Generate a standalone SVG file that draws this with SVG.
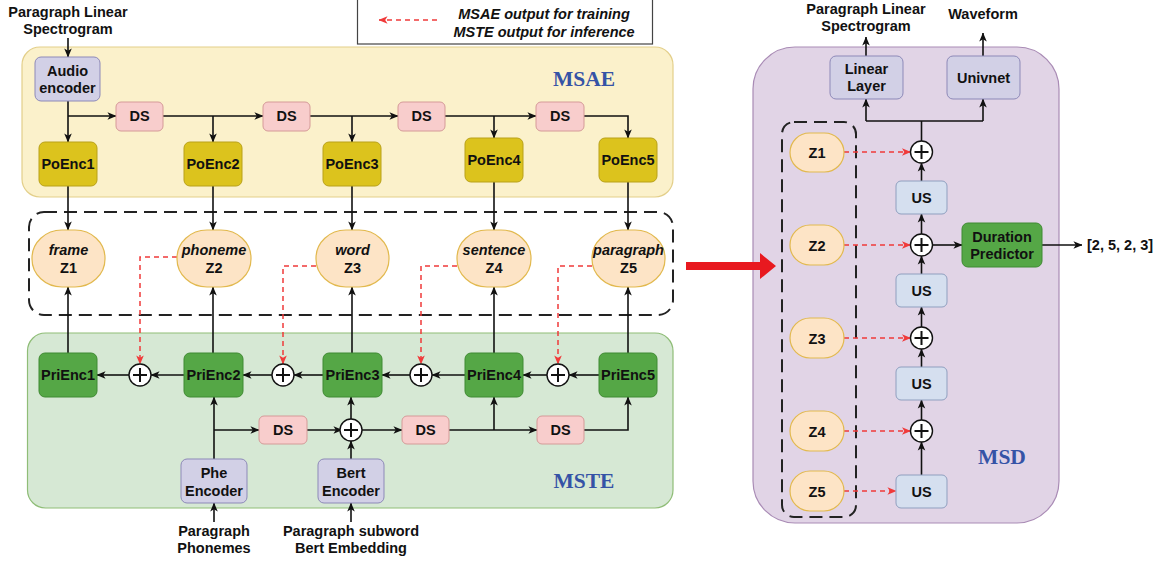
<svg xmlns="http://www.w3.org/2000/svg" width="1161" height="561" viewBox="0 0 1161 561">
  <style>
    text { font-family: "Liberation Sans", Arial, sans-serif; font-weight: bold; font-size: 14.5px; fill: #111; text-anchor: middle; }
    .it { font-style: italic; }
    .title { font-family: "Liberation Serif", "Times New Roman", serif; font-size: 21.5px; fill: #3553a6; }
    .edge { fill: none; stroke: #111; stroke-width: 1.6; marker-end: url(#ah); }
    .line { fill: none; stroke: #111; stroke-width: 1.6; }
    .red { fill: none; stroke: #f03a3a; stroke-width: 1.5; stroke-dasharray: 5 4; marker-end: url(#ahr); }
    .grp { fill: none; stroke: #222; stroke-width: 2; stroke-dasharray: 13 7; }
    .ds { fill: #f8cdcc; stroke: #d59a98; stroke-width: 1; }
    .po { fill: #dcc31d; stroke: #b9a118; stroke-width: 1; }
    .pri { fill: #55a746; stroke: #3f8a32; stroke-width: 1; }
    .enc { fill: #d2d0e6; stroke: #8d89b8; stroke-width: 1; }
    .z { fill: #fde4c6; stroke: #e2b94e; stroke-width: 1.2; }
    .us { fill: #d5dfef; stroke: #8f9fbf; stroke-width: 1; }
    .plus circle { fill: #fff; stroke: #111; stroke-width: 1.4; }
    .plus path { stroke: #111; stroke-width: 2; fill: none; }
  </style>
  <defs>
    <marker id="ah" viewBox="0 0 10 10" refX="9.5" refY="5" markerWidth="9" markerHeight="9" orient="auto" markerUnits="userSpaceOnUse">
      <path d="M0,0.8 L10,5 L0,9.2 L2.6,5 z" fill="#111"/>
    </marker>
    <marker id="ahr" viewBox="0 0 10 10" refX="9.5" refY="5" markerWidth="9" markerHeight="9" orient="auto" markerUnits="userSpaceOnUse">
      <path d="M0,0.8 L10,5 L0,9.2 L2.6,5 z" fill="#f03a3a"/>
    </marker>
  </defs>

  <!-- legend -->
  <g id="legend">
    <rect x="357.5" y="-1" width="295" height="45" fill="#fff" stroke="#444" stroke-width="1.2"/>
    <path d="M437,20 L379,20" class="red"/>
    <text x="544" y="19" class="it">MSAE output for training</text>
    <text x="544" y="37" class="it">MSTE output for inference</text>
  </g>

  <!-- module backgrounds -->
  <g id="msae">
    <rect x="22" y="47" width="651" height="150" rx="18" fill="#fbf1cb" stroke="#e3cf8a" stroke-width="1.2"/>
    <text x="584" y="86" class="title">MSAE</text>
  </g>
  <g id="mste">
    <rect x="27.5" y="333" width="645.5" height="175" rx="18" fill="#d6e8d4" stroke="#8fbd77" stroke-width="1.2"/>
    <text x="584" y="488" class="title">MSTE</text>
  </g>
  <g id="msd">
    <rect x="753" y="47" width="306" height="476" rx="42" fill="#e1d4e6" stroke="#a98bb5" stroke-width="1.2"/>
    <text x="1002" y="464" class="title">MSD</text>
  </g>
  <g id="latent-group">
    <rect x="29" y="212" width="644" height="103" rx="15" class="grp"/>
  </g>
  <g id="msd-latent-group">
    <rect x="782" y="122" width="74" height="395" rx="12" class="grp"/>
  </g>

  <!-- free labels -->
  <g id="labels">
    <text x="68" y="17">Paragraph Linear</text>
    <text x="68" y="34">Spectrogram</text>
    <text x="214" y="536">Paragraph</text>
    <text x="214" y="553">Phonemes</text>
    <text x="351" y="536">Paragraph subword</text>
    <text x="351" y="553">Bert Embedding</text>
    <text x="866" y="14">Paragraph Linear</text>
    <text x="866" y="31">Spectrogram</text>
    <text x="983" y="19">Waveform</text>
    <text x="1087" y="250" style="text-anchor:start">[2, 5, 2, 3]</text>
  </g>

  <!-- connectors -->
  <g id="connectors">
    <!-- MSAE -->
    <path d="M68,38 L68,57" class="edge"/>
    <path d="M68,101 L68,142" class="edge"/>
    <path d="M68,116 L116,116" class="edge"/>
    <path d="M163,116 L263,116" class="edge"/>
    <path d="M213,116 L213,142" class="edge"/>
    <path d="M310,116 L398,116" class="edge"/>
    <path d="M352,116 L352,142" class="edge"/>
    <path d="M445,116 L536,116" class="edge"/>
    <path d="M494,116 L494,138" class="edge"/>
    <path d="M584,116 L628,116 L628,138" class="edge"/>
    <path d="M68,186 L68,230" class="edge"/>
    <path d="M213,186 L213,230" class="edge"/>
    <path d="M352,186 L352,230" class="edge"/>
    <path d="M494,182 L494,230" class="edge"/>
    <path d="M628,182 L628,230" class="edge"/>
    <!-- MSTE upward -->
    <path d="M68,353 L68,287" class="edge"/>
    <path d="M213,353 L213,287" class="edge"/>
    <path d="M352,353 L352,287" class="edge"/>
    <path d="M494,353 L494,287" class="edge"/>
    <path d="M628,353 L628,287" class="edge"/>
    <!-- MSTE prior chain -->
    <path d="M599,375 L569,375" class="edge"/>
    <path d="M547,375 L523,375" class="edge"/>
    <path d="M465,375 L432,375" class="edge"/>
    <path d="M410,375 L382,375" class="edge"/>
    <path d="M323,375 L294,375" class="edge"/>
    <path d="M272,375 L243,375" class="edge"/>
    <path d="M184,375 L151,375" class="edge"/>
    <path d="M129,375 L97,375" class="edge"/>
    <!-- MSTE text encoders -->
    <path d="M214,459 L214,397" class="edge"/>
    <path d="M214,430 L259,430" class="edge"/>
    <path d="M307,430 L342,430" class="edge"/>
    <path d="M351,459 L351,441" class="edge"/>
    <path d="M351,419 L351,397" class="edge"/>
    <path d="M362,430 L402,430" class="edge"/>
    <path d="M449,430 L537,430" class="edge"/>
    <path d="M494,430 L494,397" class="edge"/>
    <path d="M584,430 L628,430 L628,397" class="edge"/>
    <path d="M214,522 L214,503" class="edge"/>
    <path d="M351,522 L351,503" class="edge"/>
    <!-- training / inference paths -->
    <path d="M177,257 L140,257 L140,364" class="red"/>
    <path d="M316,266 L283,266 L283,364" class="red"/>
    <path d="M457,266 L421,266 L421,364" class="red"/>
    <path d="M592,266 L558,266 L558,364" class="red"/>
    <!-- MSD -->
    <path d="M921.5,475 L921.5,442" class="edge"/>
    <path d="M921.5,420 L921.5,400" class="edge"/>
    <path d="M921.5,367 L921.5,349" class="edge"/>
    <path d="M921.5,327 L921.5,307" class="edge"/>
    <path d="M921.5,274 L921.5,256" class="edge"/>
    <path d="M921.5,234 L921.5,214" class="edge"/>
    <path d="M921.5,181 L921.5,163" class="edge"/>
    <path d="M921.5,141 L921.5,121" class="line"/>
    <path d="M866,121 L983,121" class="line"/>
    <path d="M866,121 L866,99" class="edge"/>
    <path d="M983,121 L983,99" class="edge"/>
    <path d="M866,56 L866,37" class="edge"/>
    <path d="M983,56 L983,33" class="edge"/>
    <path d="M932.5,245 L962,245" class="edge"/>
    <path d="M1042,245 L1082,245" class="edge"/>
    <path d="M844,152 L910.5,152" class="red"/>
    <path d="M844,245 L910.5,245" class="red"/>
    <path d="M844,338 L910.5,338" class="red"/>
    <path d="M844,431 L910.5,431" class="red"/>
    <path d="M844,491 L896,491" class="red"/>
    <!-- hand-off arrow -->
    <polygon points="686,262 760,262 760,253 776,266 760,279 760,270 686,270" fill="#e8191f"/>
  </g>

  <!-- MSAE nodes -->
  <g id="audio-encoder"><rect x="35" y="57" width="65" height="44" rx="6" class="enc"/><text x="67.5" y="76">Audio</text><text x="67.5" y="93">encoder</text></g>
  <g id="ds1"><rect x="116" y="102" width="47" height="29" rx="5" class="ds"/><text x="139.5" y="121">DS</text></g>
  <g id="ds2"><rect x="263" y="102" width="47" height="29" rx="5" class="ds"/><text x="286.5" y="121">DS</text></g>
  <g id="ds3"><rect x="398" y="102" width="47" height="29" rx="5" class="ds"/><text x="421.5" y="121">DS</text></g>
  <g id="ds4"><rect x="536" y="102" width="48" height="29" rx="5" class="ds"/><text x="560" y="121">DS</text></g>
  <g id="poenc1"><rect x="39" y="142" width="58" height="44" rx="6" class="po"/><text x="68" y="169">PoEnc1</text></g>
  <g id="poenc2"><rect x="184" y="142" width="58" height="44" rx="6" class="po"/><text x="213" y="169">PoEnc2</text></g>
  <g id="poenc3"><rect x="323" y="142" width="58" height="44" rx="6" class="po"/><text x="352" y="169">PoEnc3</text></g>
  <g id="poenc4"><rect x="465" y="138" width="58" height="44" rx="6" class="po"/><text x="494" y="165">PoEnc4</text></g>
  <g id="poenc5"><rect x="599" y="138" width="58" height="44" rx="6" class="po"/><text x="628" y="165">PoEnc5</text></g>

  <!-- latent nodes -->
  <g id="z1"><rect x="32" y="230" width="73" height="57" rx="30" ry="28" class="z"/><text x="68.5" y="255" class="it">frame</text><text x="68.5" y="273">Z1</text></g>
  <g id="z2"><rect x="177" y="230" width="74" height="57" rx="30" ry="28" class="z"/><text x="214" y="255" class="it">phoneme</text><text x="214" y="273">Z2</text></g>
  <g id="z3"><rect x="316" y="230" width="73" height="57" rx="30" ry="28" class="z"/><text x="352.5" y="255" class="it">word</text><text x="352.5" y="273">Z3</text></g>
  <g id="z4"><rect x="457" y="230" width="74" height="57" rx="30" ry="28" class="z"/><text x="494" y="255" class="it">sentence</text><text x="494" y="273">Z4</text></g>
  <g id="z5"><rect x="592" y="230" width="73" height="57" rx="30" ry="28" class="z"/><text x="628.5" y="255" class="it">paragraph</text><text x="628.5" y="273">Z5</text></g>

  <!-- MSTE nodes -->
  <g id="prienc1"><rect x="39" y="353" width="58" height="44" rx="6" class="pri"/><text x="68" y="380">PriEnc1</text></g>
  <g id="prienc2"><rect x="184" y="353" width="59" height="44" rx="6" class="pri"/><text x="213.5" y="380">PriEnc2</text></g>
  <g id="prienc3"><rect x="323" y="353" width="59" height="44" rx="6" class="pri"/><text x="352.5" y="380">PriEnc3</text></g>
  <g id="prienc4"><rect x="465" y="353" width="58" height="44" rx="6" class="pri"/><text x="494" y="380">PriEnc4</text></g>
  <g id="prienc5"><rect x="599" y="353" width="58" height="44" rx="6" class="pri"/><text x="628" y="380">PriEnc5</text></g>
  <g id="add1" class="plus"><circle cx="140" cy="375" r="11"/><path d="M133,375 h14 M140,368 v14"/></g>
  <g id="add2" class="plus"><circle cx="283" cy="375" r="11"/><path d="M276,375 h14 M283,368 v14"/></g>
  <g id="add3" class="plus"><circle cx="421" cy="375" r="11"/><path d="M414,375 h14 M421,368 v14"/></g>
  <g id="add4" class="plus"><circle cx="558" cy="375" r="11"/><path d="M551,375 h14 M558,368 v14"/></g>
  <g id="add-bert" class="plus"><circle cx="351" cy="430" r="11"/><path d="M344,430 h14 M351,423 v14"/></g>
  <g id="ds5"><rect x="259" y="416" width="48" height="28" rx="5" class="ds"/><text x="283" y="435">DS</text></g>
  <g id="ds6"><rect x="402" y="416" width="47" height="28" rx="5" class="ds"/><text x="425.5" y="435">DS</text></g>
  <g id="ds7"><rect x="537" y="416" width="47" height="28" rx="5" class="ds"/><text x="560.5" y="435">DS</text></g>
  <g id="phe-encoder"><rect x="181" y="459" width="66" height="44" rx="6" class="enc"/><text x="214" y="478">Phe</text><text x="214" y="496">Encoder</text></g>
  <g id="bert-encoder"><rect x="318" y="459" width="66" height="44" rx="6" class="enc"/><text x="351" y="478">Bert</text><text x="351" y="496">Encoder</text></g>

  <!-- MSD nodes -->
  <g id="linear-layer"><rect x="830" y="56" width="73" height="43" rx="6" class="enc"/><text x="866.5" y="74">Linear</text><text x="866.5" y="91">Layer</text></g>
  <g id="univnet"><rect x="947" y="56" width="73" height="43" rx="6" class="enc"/><text x="983.5" y="82.5">Univnet</text></g>
  <g id="msd-z1"><rect x="790" y="133" width="54" height="39" rx="19.5" class="z"/><text x="817" y="157.5">Z1</text></g>
  <g id="msd-z2"><rect x="790" y="225" width="54" height="40" rx="20" class="z"/><text x="817" y="250.5">Z2</text></g>
  <g id="msd-z3"><rect x="790" y="318" width="54" height="40" rx="20" class="z"/><text x="817" y="343.5">Z3</text></g>
  <g id="msd-z4"><rect x="790" y="411" width="54" height="40" rx="20" class="z"/><text x="817" y="436.5">Z4</text></g>
  <g id="msd-z5"><rect x="790" y="471" width="54" height="40" rx="20" class="z"/><text x="817" y="496.5">Z5</text></g>
  <g id="msd-add1" class="plus"><circle cx="921.5" cy="152" r="11"/><path d="M914.5,152 h14 M921.5,145 v14"/></g>
  <g id="msd-add2" class="plus"><circle cx="921.5" cy="245" r="11"/><path d="M914.5,245 h14 M921.5,238 v14"/></g>
  <g id="msd-add3" class="plus"><circle cx="921.5" cy="338" r="11"/><path d="M914.5,338 h14 M921.5,331 v14"/></g>
  <g id="msd-add4" class="plus"><circle cx="921.5" cy="431" r="11"/><path d="M914.5,431 h14 M921.5,424 v14"/></g>
  <g id="us1"><rect x="896" y="181" width="51" height="33" rx="5" class="us"/><text x="921.5" y="202.5">US</text></g>
  <g id="us2"><rect x="896" y="274" width="51" height="33" rx="5" class="us"/><text x="921.5" y="295.5">US</text></g>
  <g id="us3"><rect x="896" y="367" width="51" height="33" rx="5" class="us"/><text x="921.5" y="388.5">US</text></g>
  <g id="us4"><rect x="896" y="475" width="51" height="33" rx="5" class="us"/><text x="921.5" y="496.5">US</text></g>
  <g id="duration-predictor"><rect x="962" y="223" width="80" height="44" rx="6" class="pri"/><text x="1002" y="242">Duration</text><text x="1002" y="259">Predictor</text></g>
</svg>
